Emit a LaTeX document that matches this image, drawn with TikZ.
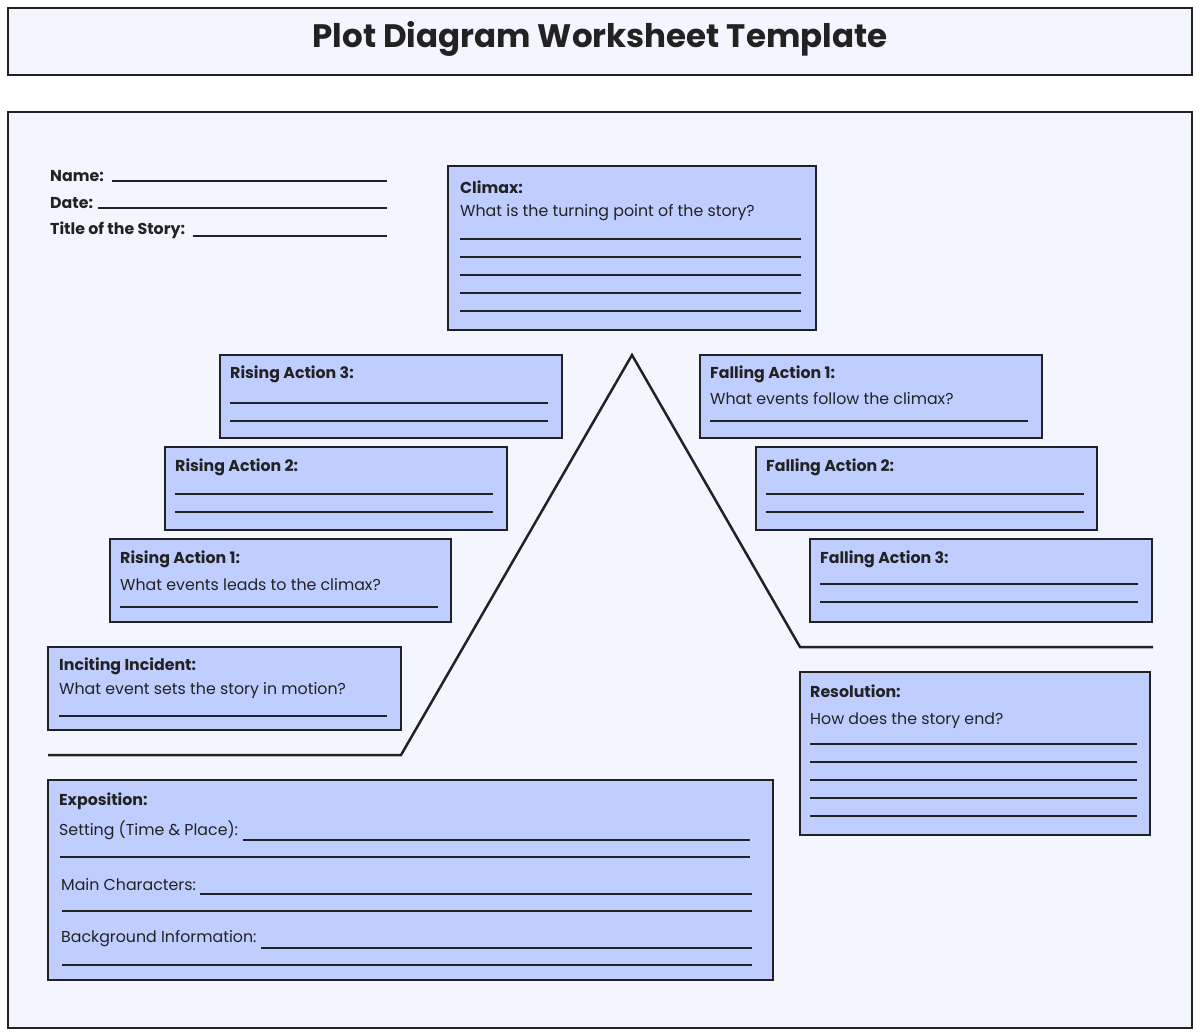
\documentclass[tikz,border=0pt]{standalone}
\usepackage{fontspec}
\setmainfont{Poppins}
\definecolor{bg}{HTML}{F3F6FE}
\definecolor{bx}{HTML}{BFCEFF}
\definecolor{ink}{HTML}{222222}
\begin{document}
\begin{tikzpicture}[x=1pt,y=-1pt,
  frame/.style={draw=ink,line width=2.5pt},
  box/.style={draw=ink,line width=2.5pt,fill=bx},
  lbl/.style={anchor=west,inner sep=0pt,yshift=-1.5pt,font=\fontsize{15.8}{18}\selectfont\bfseries,text=ink},
  txt/.style={anchor=west,inner sep=0pt,yshift=-1.5pt,font=\fontsize{15.8}{18}\selectfont,text=ink},
  ln/.style={draw=ink,line width=1.1pt}]
\useasboundingbox (0,0) rectangle (1200,1034);
\fill[white] (0,0) rectangle (1200,1034);
\draw[frame,fill=bg] (8,8) rectangle (1192,75);
\node[font=\fontsize{32.5}{36}\selectfont\bfseries,text=ink] (title) at (600,39) {Plot Diagram Worksheet Template};
\draw[frame,fill=bg] (8,112) rectangle (1192,1028);
% header fields
\node[lbl] (name) at (50,175) {Name:};
\draw[ln] (112,181)--(387,181);
\node[lbl] (date) at (50,202) {Date:};
\draw[ln] (98,208)--(387,208);
\node[lbl] (story) at (50,229) {Title of the Story:};
\draw[ln] (193,236)--(387,236);
% plot line
\draw[ink,line width=2.5pt,line join=miter] (48,755)--(401,755)--(632,355)--(800,647)--(1153,647);
% Climax
\draw[box] (448,166) rectangle (816,330);
\node[lbl] (climax) at (460,186) {Climax:};
\node[txt] (climaxq) at (460,211) {What is the turning point of the story?};
\foreach \y in {239,257,275,293,311} \draw[ln] (460,\y)--(801,\y);
% Rising 3
\draw[box] (220,355) rectangle (562,438);
\node[lbl] (r3) at (230,373) {Rising Action 3:};
\foreach \y in {403,421} \draw[ln] (230,\y)--(548,\y);
% Rising 2
\draw[box] (165,447) rectangle (507,530);
\node[lbl] (r2) at (175,466) {Rising Action 2:};
\foreach \y in {494,512} \draw[ln] (175,\y)--(493,\y);
% Rising 1
\draw[box] (110,539) rectangle (451,622);
\node[lbl] (r1) at (120,558) {Rising Action 1:};
\node[txt] (r1q) at (120,583) {What events leads to the climax?};
\draw[ln] (120,607)--(438,607);
% Inciting
\draw[box] (48,647) rectangle (401,730);
\node[lbl] (inc) at (59,665) {Inciting Incident:};
\node[txt] (incq) at (59,689) {What event sets the story in motion?};
\draw[ln] (59,716)--(387,716);
% Falling 1
\draw[box] (700,355) rectangle (1042,438);
\node[lbl] (f1) at (710,373) {Falling Action 1:};
\node[txt] (f1q) at (710,397) {What events follow the climax?};
\draw[ln] (710,421)--(1028,421);
% Falling 2
\draw[box] (756,447) rectangle (1097,530);
\node[lbl] (f2) at (766,466) {Falling Action 2:};
\foreach \y in {494,512} \draw[ln] (766,\y)--(1084,\y);
% Falling 3
\draw[box] (810,539) rectangle (1152,622);
\node[lbl] (f3) at (820,558) {Falling Action 3:};
\foreach \y in {584,602} \draw[ln] (820,\y)--(1138,\y);
% Resolution
\draw[box] (800,672) rectangle (1150,835);
\node[lbl] (res) at (810,690) {Resolution:};
\node[txt] (resq) at (810,719) {How does the story end?};
\foreach \y in {744,762,780,798,816} \draw[ln] (810,\y)--(1137,\y);
% Exposition
\draw[box] (48,780) rectangle (773,980);
\node[lbl] (exp) at (59,800) {Exposition:};
\node[txt] (set) at (59,829) {Setting (Time \& Place):};
\draw[ln] (243,840)--(750,840);
\draw[ln] (60,857)--(750,857);
\node[txt] (chars) at (61,883) {Main Characters:};
\draw[ln] (200,894)--(752,894);
\draw[ln] (62,911)--(752,911);
\node[txt] (bgi) at (61,937) {Background Information:};
\draw[ln] (261,948)--(752,948);
\draw[ln] (62,965)--(752,965);
\end{tikzpicture}
\end{document}
